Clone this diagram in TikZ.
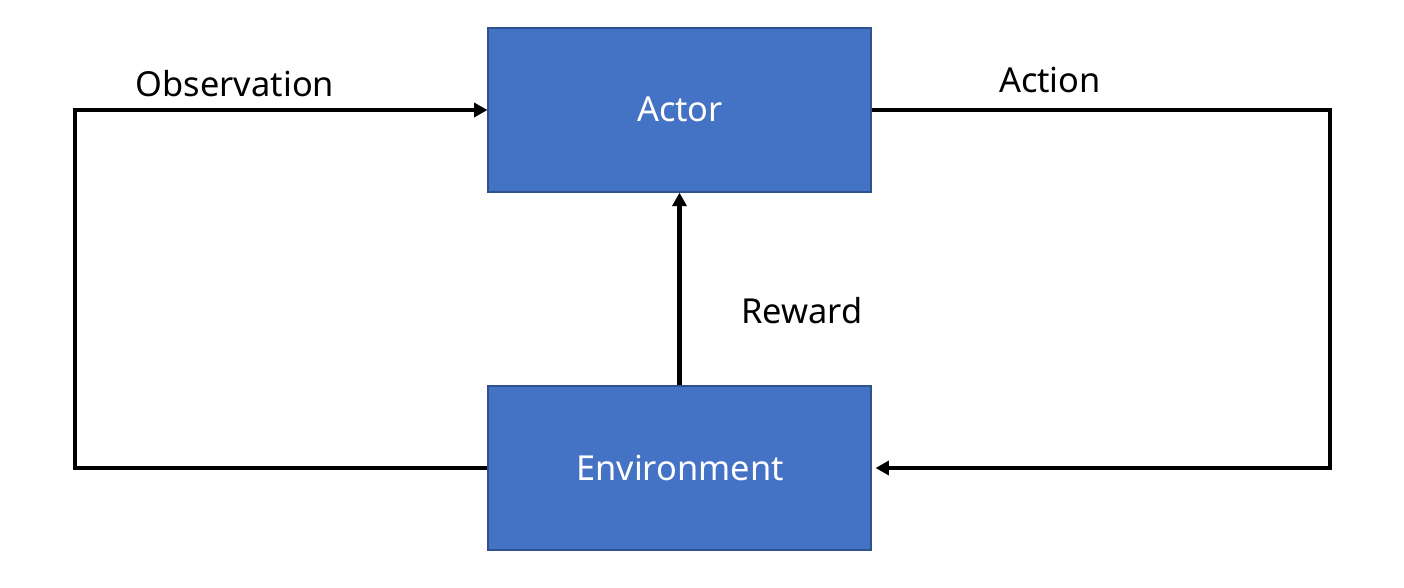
\documentclass[tikz,border=0pt]{standalone}
\usepackage{fontspec}
\setmainfont{Noto Sans}
\usetikzlibrary{arrows.meta}
\definecolor{boxfill}{HTML}{4472C4}
\definecolor{boxline}{HTML}{2F528F}
\begin{document}
\begin{tikzpicture}[x=0.75pt,y=-0.75pt,
  block/.style={draw=boxline,line width=1.1pt,fill=boxfill,minimum width=287pt,minimum height=123pt,inner sep=0pt},
  btxt/.style={anchor=base,inner sep=0pt,text=white,font=\fontsize{25.8}{30}\selectfont},
  conn/.style={line width=3.7pt,-{Triangle[length=10pt,width=10.5pt]}},
  lbl/.style={anchor=base,inner sep=0pt,font=\fontsize{25.8}{30}\selectfont}]
\useasboundingbox (0,0) rectangle (1404,588);
\node[block] (actor) at (679.5,110) {};
\node[block] (env) at (679.5,468) {};
\node[btxt] (actortxt) at (680,122) {Actor};
\node[btxt] (envtxt) at (680,480) {Environment};
\coordinate (ol) at (75,468);
\coordinate (ou) at (75,110);
\coordinate (ar) at (1330,110);
\coordinate (ad) at (1330,468);
\draw[conn] (env.west) -- (ol) -- (ou) -- (actor.west);
\draw[conn,shorten >=3pt] (actor.east) -- (ar) -- (ad) -- (env.east);
\draw[conn] (env.north) -- (actor.south);
\node[lbl] (obs) at (235,97) {Observation};
\node[lbl] (act) at (1050,93) {Action};
\node[lbl] (rew) at (802,324) {Reward};
\end{tikzpicture}
\end{document}
